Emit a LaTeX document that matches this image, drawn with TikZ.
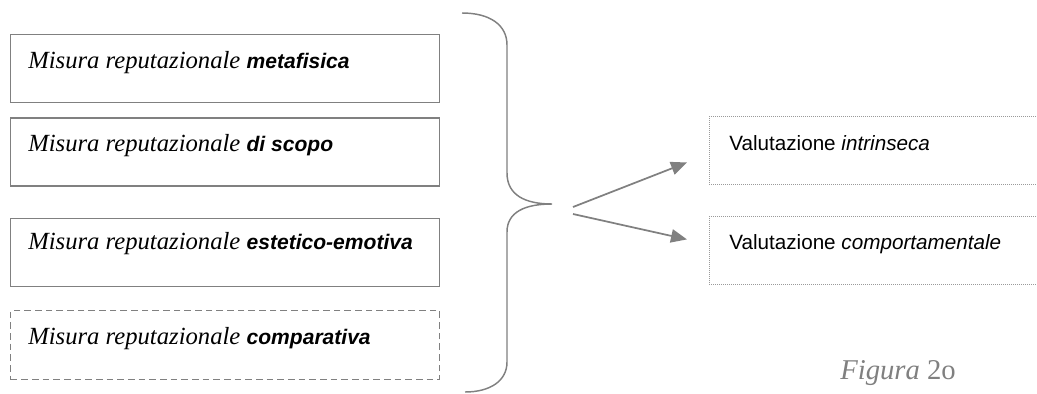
\documentclass[tikz,border=0pt]{standalone}
\usepackage{fontspec}
\setmainfont{Liberation Serif}
\newfontfamily\arialfont{Liberation Sans}
\usetikzlibrary{positioning,arrows.meta,calc}
\definecolor{framegray}{HTML}{808080}
\definecolor{dotgray}{HTML}{9A9A9A}

\begin{document}
\begin{tikzpicture}[
  x=0.75pt, y=-0.75pt,
  mbox/.style={draw=framegray, line width=1pt, anchor=north west, minimum width=321.75pt, minimum height=51pt, inner sep=0pt},
  cbox/.style={mbox, dash pattern=on 5pt off 3pt},
  vbox/.style={draw=dotgray, line width=0.7pt, dash pattern=on 0.7pt off 0.8pt, anchor=north west, minimum width=250pt, minimum height=51pt, inner sep=0pt},
  mtxt/.style={anchor=base west, inner sep=0pt, font=\fontsize{18.5}{20}\selectfont\itshape},
  vtxt/.style={anchor=base west, inner sep=0pt, font=\fontsize{15.5}{18}\selectfont\arialfont},
  flow/.style={-{Triangle[length=12pt, width=10pt]}, draw=framegray, fill=framegray, line width=1.3pt},
  brace/.style={draw=framegray, line width=1.1pt}
]
\useasboundingbox (0,0) rectangle (1037,393);
% ---------- left: reputational measures ----------
\node[mbox] (metaf) at (10,34) {};
\node[mbox, below=10.5pt of metaf] (scopo) {};
\node[mbox, below=23.25pt of scopo] (estet) {};
\node[cbox, below=17.25pt of estet, minimum height=51.75pt] (compar) {};
\node[mtxt] (metaft) at ($(metaf.north west)+(18,34)$) {Misura reputazionale {\arialfont\fontsize{15.8}{18}\selectfont\bfseries metafisica}};
\node[mtxt] (scopot) at ($(scopo.north west)+(18,34)$) {Misura reputazionale {\arialfont\fontsize{15.8}{18}\selectfont\bfseries di scopo}};
\node[mtxt] (estett) at ($(estet.north west)+(18,32)$) {Misura reputazionale {\arialfont\fontsize{15.8}{18}\selectfont\bfseries estetico-emotiva}};
\node[mtxt] (compart) at ($(compar.north west)+(18,34)$) {Misura reputazionale {\arialfont\fontsize{15.8}{18}\selectfont\bfseries comparativa}};
% ---------- brace ----------
\coordinate (tip) at (552,204);
\draw[brace] (462,13) .. controls (490,13) and (507,25) .. (507,45) -- (507,173)
  .. controls (507,195) and (525,204) .. (tip)
  .. controls (525,204) and (507,212) .. (507,232) -- (507,362)
  .. controls (507,381) and (490,392) .. (465,392);
% ---------- right: evaluations ----------
\node[vbox] (intr) at (709,116) {};
\node[vbox, below=23.25pt of intr] (comp) {};
\node[vtxt] (intrt) at ($(intr.north west)+(20,34)$) {Valutazione \textit{intrinseca}};
\node[vtxt] (compt) at ($(comp.north west)+(20,34)$) {Valutazione \textit{comportamentale}};
\coordinate (a1e) at ($(intr.west)+(-22,12)$);
\coordinate (a2e) at ($(comp.west)+(-22,-11)$);
\draw[flow] ($(tip)+(21,3)$) -- (a1e);
\draw[flow] ($(tip)+(21,10)$) -- (a2e);
% ---------- caption ----------
\node[anchor=base west, inner sep=0pt, text=framegray, font=\fontsize{21.5}{24}\selectfont] (fig) at (840,379) {\textit{Figura} 2o};
\end{tikzpicture}
\end{document}
